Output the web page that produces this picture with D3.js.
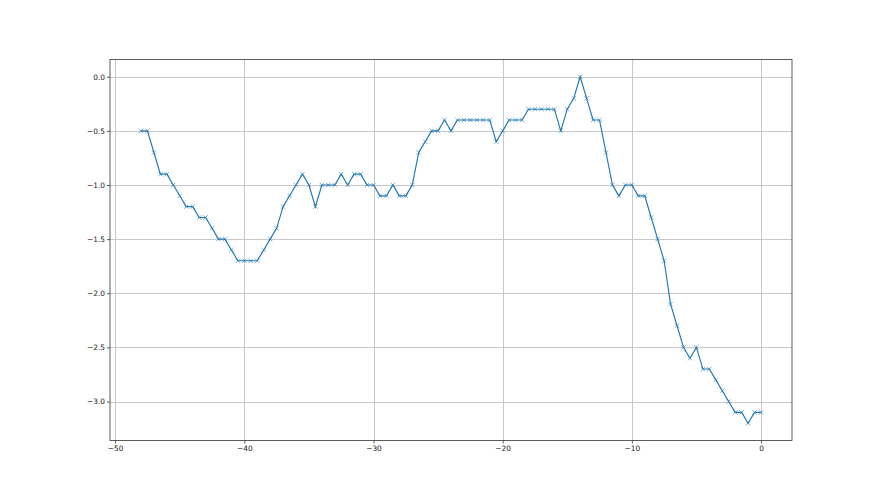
<!DOCTYPE html>
<html><head><meta charset="utf-8">
<script src="https://cdn.jsdelivr.net/npm/d3@7"></script>
<style>body{margin:0;background:#fff}svg{display:block}</style>
</head><body>
<script>
const xValues = [-48,-47.5,-47,-46.5,-46,-45.5,-45,-44.5,-44,-43.5,-43,-42.5,-42,-41.5,-41,-40.5,-40,-39.5,-39,-38.5,-38,-37.5,-37,-36.5,-36,-35.5,-35,-34.5,-34,-33.5,-33,-32.5,-32,-31.5,-31,-30.5,-30,-29.5,-29,-28.5,-28,-27.5,-27,-26.5,-26,-25.5,-25,-24.5,-24,-23.5,-23,-22.5,-22,-21.5,-21,-20.5,-20,-19.5,-19,-18.5,-18,-17.5,-17,-16.5,-16,-15.5,-15,-14.5,-14,-13.5,-13,-12.5,-12,-11.5,-11,-10.5,-10,-9.5,-9,-8.5,-8,-7.5,-7,-6.5,-6,-5.5,-5,-4.5,-4,-3.5,-3,-2.5,-2,-1.5,-1,-0.5,0];
const yValues = [-0.5,-0.5,-0.7,-0.9,-0.9,-1.0,-1.1,-1.2,-1.2,-1.3,-1.3,-1.4,-1.5,-1.5,-1.6,-1.7,-1.7,-1.7,-1.7,-1.6,-1.5,-1.4,-1.2,-1.1,-1.0,-0.9,-1.0,-1.2,-1.0,-1.0,-1.0,-0.9,-1.0,-0.9,-0.9,-1.0,-1.0,-1.1,-1.1,-1.0,-1.1,-1.1,-1.0,-0.7,-0.6,-0.5,-0.5,-0.4,-0.5,-0.4,-0.4,-0.4,-0.4,-0.4,-0.4,-0.6,-0.5,-0.4,-0.4,-0.4,-0.3,-0.3,-0.3,-0.3,-0.3,-0.5,-0.3,-0.2,0.0,-0.2,-0.4,-0.4,-0.7,-1.0,-1.1,-1.0,-1.0,-1.1,-1.1,-1.3,-1.5,-1.7,-2.1,-2.3,-2.5,-2.6,-2.5,-2.7,-2.7,-2.8,-2.9,-3.0,-3.1,-3.1,-3.2,-3.1,-3.1];
const xTicks = [-50,-40,-30,-20,-10,0];
const yTicks = [0.0,-0.5,-1.0,-1.5,-2.0,-2.5,-3.0];

const W = 880, H = 495;
const L = 110, R = 792, T = 59.4, B = 440.5;
const svg = d3.select("body").append("svg").attr("width", W).attr("height", H);

const xmin = d3.min(xValues), xmax = d3.max(xValues);
const ymin = d3.min(yValues), ymax = d3.max(yValues);
const xm = (xmax - xmin) * 0.05, ym = (ymax - ymin) * 0.05;
const x = d3.scaleLinear().domain([xmin - xm, xmax + xm]).range([L, R]);
const y = d3.scaleLinear().domain([ymin - ym, ymax + ym]).range([B, T]);

const fmt = d => (d < 0 ? "\u2212" : "") + d3.format(".1f")(Math.abs(d));
const fmtx = d => (d < 0 ? "\u2212" : "") + Math.abs(d);

// grid
const g = svg.append("g");
g.selectAll(".gx").data(xTicks).join("line")
  .attr("x1", d => Math.round(x(d)) + 0.5).attr("x2", d => Math.round(x(d)) + 0.5)
  .attr("y1", T).attr("y2", B).attr("stroke", "#c8c8c8").attr("stroke-width", 1);
g.selectAll(".gy").data(yTicks).join("line")
  .attr("y1", d => Math.round(y(d)) + 0.5).attr("y2", d => Math.round(y(d)) + 0.5)
  .attr("x1", L).attr("x2", R).attr("stroke", "#c8c8c8").attr("stroke-width", 1);

// axes
const xAxis = d3.axisBottom(x).tickValues(xTicks).tickFormat(fmtx).tickSize(3).tickPadding(2);
const yAxis = d3.axisLeft(y).tickValues(yTicks).tickFormat(fmt).tickSize(3).tickPadding(2);
const gxA = svg.append("g").attr("transform", `translate(0,${B})`).call(xAxis);
const gyA = svg.append("g").attr("transform", `translate(${L},0)`).call(yAxis);
[gxA, gyA].forEach(a => {
  a.select(".domain").remove();
  a.selectAll("line").attr("stroke", "#333").attr("stroke-width", 0.8);
  a.selectAll("text").attr("fill", "#222").style("font-family", "DejaVu Sans").style("font-size", "7.4px");
});

// line
svg.append("path").datum(xValues.map((v, i) => [v, yValues[i]]))
  .attr("fill", "none").attr("stroke", "#1f77b4").attr("stroke-width", 1.15)
  .attr("d", d3.line().x(d => x(d[0])).y(d => y(d[1])));

// markers
const ms = 2.2;
svg.append("g").selectAll("path").data(xValues.map((v, i) => [v, yValues[i]])).join("path")
  .attr("d", d => { const cx = x(d[0]), cy = y(d[1]);
    return `M${cx-ms},${cy-ms}L${cx+ms},${cy+ms}M${cx-ms},${cy+ms}L${cx+ms},${cy-ms}`; })
  .attr("stroke", "#1f77b4").attr("stroke-width", 0.6).attr("fill", "none");

// frame
svg.append("rect").attr("x", L).attr("y", T).attr("width", R - L).attr("height", B - T)
  .attr("fill", "none").attr("stroke", "#333").attr("stroke-width", 0.8);
</script>
</body></html>
